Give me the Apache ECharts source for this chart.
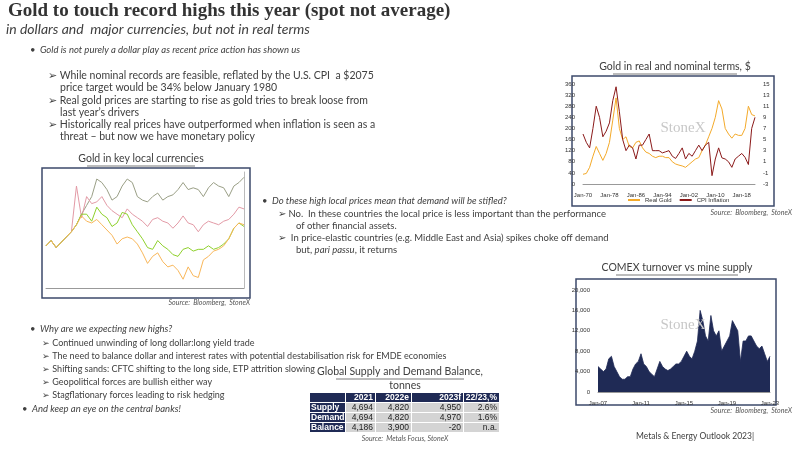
<!DOCTYPE html>
<html>
<head>
<meta charset="utf-8">
<script src="https://cdn.jsdelivr.net/npm/echarts@6/dist/echarts.min.js"></script>
<style>html,body{margin:0;padding:0;background:#fff}#container{width:800px;height:450px}</style>
</head>
<body>
<div id="container"></div>
<script>
// ---- data ----
var realYears = [];
for (var y = 1970; y <= 2022; y++) realYears.push(y);
var realGold = [35,38,60,100,135,110,85,110,150,230,310,200,160,170,135,130,150,155,130,115,110,100,95,100,100,95,95,80,72,68,65,60,70,80,90,95,120,140,170,200,240,300,270,200,180,165,180,175,175,200,280,250,245];
var cpiInflation = [6,4.5,3.5,7,11,9,5.5,6.5,8,12,14.5,10,5,3,4,3.5,1.5,4,4,5,6,3,3,3,2.6,2.8,3,2,1.6,2.5,3.5,1.5,2.5,2,3,4,3,4,4.5,-1.5,1.5,3.5,1.7,1.5,1,0,1.5,2,2.5,1.8,0.5,7,9];

var comexYears = [];
for (var q = 0; q <= 64; q++) comexYears.push(2007 + Math.floor(q / 4));
var comexTurnover = [5000,4500,4000,4500, 6500,7000,5000,4000, 3000,2500,2500,3000, 3000,4500,5500,6000,
  7500,5500,5000,4000, 3500,3000,4500,6000, 5000,4500,4200,4500, 5000,5500,5500,6000,
  7000,8000,7000,6500, 8000,10000,16000,14000, 11000,10000,15000,12000, 11000,12000,8000,9000,
  10000,11000,14000,13000, 12000,6000,10000,10000, 11000,11000,10000,9000, 8500,9000,7500,6000, 7000];

// gold in key local currencies (index, arbitrary units)
var localIdx = [];
for (var i = 0; i < 40; i++) localIdx.push(i);
var goldGrey   = [160,175,155,170,185,200,220,250,275,300,350,340,320,290,300,330,350,340,300,290,285,300,310,290,300,305,320,340,320,325,320,300,325,340,330,325,300,330,340,355];
var goldPink   = [160,175,155,170,185,200,330,240,300,280,285,300,275,260,250,240,265,250,240,230,215,235,240,230,225,210,225,245,225,220,200,220,230,225,220,230,235,250,270,265];
var goldGreen  = [160,175,155,170,185,200,220,250,250,230,270,250,240,215,225,255,250,220,200,180,155,150,175,160,150,135,130,150,155,145,150,150,160,150,155,165,180,210,225,215];
var goldOrange = [160,175,155,170,185,200,220,245,230,225,235,220,205,190,165,180,185,180,165,140,110,130,140,115,100,105,90,65,100,75,70,120,130,145,150,160,180,210,225,220];

var tableHead = ['', '2021', '2022e', '2023f', '22/23,%'];
var tableRows = [
  ['Supply', '4,694', '4,820', '4,950', '2.6%'],
  ['Demand', '4,694', '4,820', '4,970', '1.6%'],
  ['Balance', '4,186', '3,900', '-20', 'n.a.']
];

// ---- helpers ----
var txtCol = '#404040';
var font = 'Lato';
var g = [];
function t(x, y, s, o) {
  o = o || {};
  g.push({type: 'text', x: x, y: y, style: {text: s, fill: o.fill || txtCol, font: (o.style || '') + ' ' + (o.weight || 'normal') + ' ' + (o.size || 10) + 'px ' + (o.family || font), textAlign: o.align || 'left', textVerticalAlign: 'top'}, z: 10});
}
function ttl(cx, y, s, w) {
  t(cx, y, s, {size: 10.5, align: 'center'});
  g.push({type: 'line', shape: {x1: cx - w / 2, y1: y + 13, x2: cx + w / 2, y2: y + 13}, style: {stroke: txtCol, lineWidth: 0.7}, z: 10});
}
function frame(x, y, w, h) {
  g.push({type: 'rect', shape: {x: x, y: y, width: w, height: h}, style: {fill: '#fff', stroke: '#3d4a6b', lineWidth: 1.5}, z: -1});
}

t(8, 2, 'Gold to touch record highs this year (spot not average)', {size: 19, weight: 'bold', family: 'Liberation Serif', fill: '#333'});
t(6, 22, 'in dollars and  major currencies, but not in real terms', {size: 14, style: 'italic'});

t(30, 45, '•  Gold is not purely a dollar play as recent price action has shown us', {style: 'italic', size: 9.5});
t(48, 70, '➢ While nominal records are feasible, reflated by the U.S. CPI  a $2075', {size: 10.5});
t(60, 82, 'price target would be 34% below January 1980', {size: 10.5});
t(48, 95, '➢ Real gold prices are starting to rise as gold tries to break loose from', {size: 10.5});
t(60, 107, 'last year\u2019s drivers', {size: 10.5});
t(48, 119, '➢ Historically real prices have outperformed when inflation is seen as a', {size: 10.5});
t(60, 131, 'threat \u2013 but now we have monetary policy', {size: 10.5});

t(262, 196, '•  Do these high local prices mean that demand will be stifled?', {style: 'italic', size: 9.5});
t(278, 209, '➢ No.  In these countries the local price is less important than the performance', {size: 9.5});
t(296, 221, 'of other financial assets.', {size: 9.5});
t(278, 233, '➢  In price-elastic countries (e.g. Middle East and Asia) spikes choke off demand', {size: 9.5});
g.push({type: 'text', x: 296, y: 245, style: {rich: {a: {fill: txtCol, font: '9.5px ' + font}, b: {fill: txtCol, font: 'italic 9.5px ' + font}}, text: '{a|but, }{b|pari passu}{a|, it returns}', textVerticalAlign: 'top'}, z: 10});

t(30, 324, '•  Why are we expecting new highs?', {style: 'italic', size: 9.5});
t(42, 339, '➢ Continued unwinding of long dollar:long yield trade', {size: 9});
t(42, 352, '➢ The need to balance dollar and interest rates with potential destabilisation risk for EMDE economies', {size: 9});
t(42, 365, '➢ Shifting sands: CFTC shifting to the long side, ETP attrition slowing', {size: 9});
t(42, 378, '➢ Geopolitical forces are bullish either way', {size: 9});
t(42, 391, '➢ Stagflationary forces leading to risk hedging', {size: 9});
t(22, 404, '•  And keep an eye on the central banks!', {style: 'italic', size: 9.5});

t(636, 432, 'Metals & Energy Outlook 2023|', {size: 8.5});

ttl(141, 153, 'Gold in key local currencies', 108);
ttl(675, 61, 'Gold in real and nominal terms, $', 124);
ttl(677, 262, 'COMEX turnover vs mine supply', 122);
ttl(400, 366, 'Global Supply and Demand Balance,', 128);
t(405, 380, 'tonnes', {size: 10.5, align: 'center'});

t(250, 299, 'Source:  Bloomberg,  StoneX', {style: 'italic', size: 7, align: 'right', fill: '#555'});
t(792, 209, 'Source:  Bloomberg,  StoneX', {style: 'italic', size: 7, align: 'right', fill: '#555'});
t(792, 407, 'Source:  Bloomberg,  StoneX', {style: 'italic', size: 7, align: 'right', fill: '#555'});
t(405, 435, 'Source:  Metals Focus, StoneX', {style: 'italic', size: 7, align: 'center', fill: '#555'});

frame(42, 168, 208, 130);
frame(572, 76, 202, 130);
frame(576, 279, 200, 126);

t(683, 121, 'StoneX', {size: 15, family: 'Liberation Serif', fill: '#c8c8c8', align: 'center'});
t(683, 318, 'StoneX', {size: 15, family: 'Liberation Serif', fill: '#c8c8c8', align: 'center'});

// table
var colX = [310, 346, 376, 412, 464, 500];
var rowY = [393, 403, 413, 423, 433];
for (var r = 0; r < 4; r++) {
  var row = r === 0 ? tableHead : tableRows[r - 1];
  for (var c = 0; c < 5; c++) {
    var dark = r === 0 || c === 0;
    g.push({type: 'rect', shape: {x: colX[c], y: rowY[r], width: colX[c + 1] - colX[c] - 1, height: 9}, style: {fill: dark ? '#1f2a55' : '#d4d4d4'}, z: 5});
    if (row[c]) {
      g.push({type: 'text', x: c === 0 ? colX[c] + 1 : colX[c + 1] - 3, y: rowY[r] + 0.5, style: {text: row[c], fill: dark ? '#fff' : '#222', font: (dark ? 'bold ' : '') + '8.5px Liberation Sans', textAlign: c === 0 ? 'left' : 'right', textVerticalAlign: 'top'}, z: 6});
    }
  }
}

var dom = document.getElementById('container');
var myChart = echarts.init(dom);

var small = {fontSize: 6, color: '#333', fontFamily: 'Liberation Sans'};
var option = {
  animation: false,
  graphic: g,
  grid: [
    {left: 46, top: 172, width: 198, height: 116},
    {left: 583, top: 84, width: 172, height: 100},
    {left: 598, top: 290, width: 172, height: 102}
  ],
  xAxis: [
    {gridIndex: 0, type: 'category', data: localIdx, boundaryGap: false, axisLabel: {show: false}, axisTick: {show: false}, axisLine: {lineStyle: {color: '#999'}}},
    {gridIndex: 1, type: 'category', data: realYears, boundaryGap: false,
      axisLabel: Object.assign({interval: 7, formatter: function (v) { return 'Jan-' + String(v).slice(2); }}, small),
      axisTick: {show: false}, axisLine: {lineStyle: {color: '#999'}}},
    {gridIndex: 2, type: 'category', data: comexYears, boundaryGap: false,
      axisLabel: Object.assign({interval: 15, formatter: function (v) { return 'Jan-' + String(v).slice(2); }}, small),
      axisTick: {show: false}, axisLine: {lineStyle: {color: '#999'}}}
  ],
  yAxis: [
    {gridIndex: 0, position: 'right', min: 40, max: 370, axisLabel: {show: false}, splitLine: {show: false}, axisLine: {show: true, lineStyle: {color: '#bbb'}}},
    {gridIndex: 1, min: 0, max: 360, interval: 40, axisLabel: small, splitLine: {show: false}, axisLine: {show: false}},
    {gridIndex: 1, position: 'right', min: -3, max: 15, interval: 2, axisLabel: small, splitLine: {show: false}, axisLine: {show: false}},
    {gridIndex: 2, min: 0, max: 20000, interval: 4000, axisLabel: Object.assign({formatter: function (v) { return v.toLocaleString('en-US'); }}, small), splitLine: {show: false}, axisLine: {show: false}}
  ],
  legend: {left: 623, top: 192, itemWidth: 12, itemHeight: 2, icon: 'rect', textStyle: small, data: ['Real Gold', 'CPI Inflation']},
  series: [
    {type: 'line', xAxisIndex: 0, yAxisIndex: 0, data: goldGrey, symbol: 'none', lineStyle: {color: '#9a9f86', width: 1}},
    {type: 'line', xAxisIndex: 0, yAxisIndex: 0, data: goldPink, symbol: 'none', lineStyle: {color: '#e39aa6', width: 1}},
    {type: 'line', xAxisIndex: 0, yAxisIndex: 0, data: goldGreen, symbol: 'none', lineStyle: {color: '#8fd12c', width: 1}},
    {type: 'line', xAxisIndex: 0, yAxisIndex: 0, data: goldOrange, symbol: 'none', lineStyle: {color: '#f9b75a', width: 1}},
    {name: 'Real Gold', type: 'line', xAxisIndex: 1, yAxisIndex: 1, data: realGold, symbol: 'none', itemStyle: {color: '#f4aa2a'}, lineStyle: {color: '#f4aa2a', width: 1}},
    {name: 'CPI Inflation', type: 'line', xAxisIndex: 1, yAxisIndex: 2, data: cpiInflation, symbol: 'none', itemStyle: {color: '#8b1a1a'}, lineStyle: {color: '#8b1a1a', width: 1}},
    {type: 'line', xAxisIndex: 2, yAxisIndex: 3, data: comexTurnover, symbol: 'none', lineStyle: {color: '#1f2a55', width: 0.8}, areaStyle: {color: '#1f2a55', opacity: 1}}
  ]
};
myChart.setOption(option, true);
</script>
</body>
</html>
